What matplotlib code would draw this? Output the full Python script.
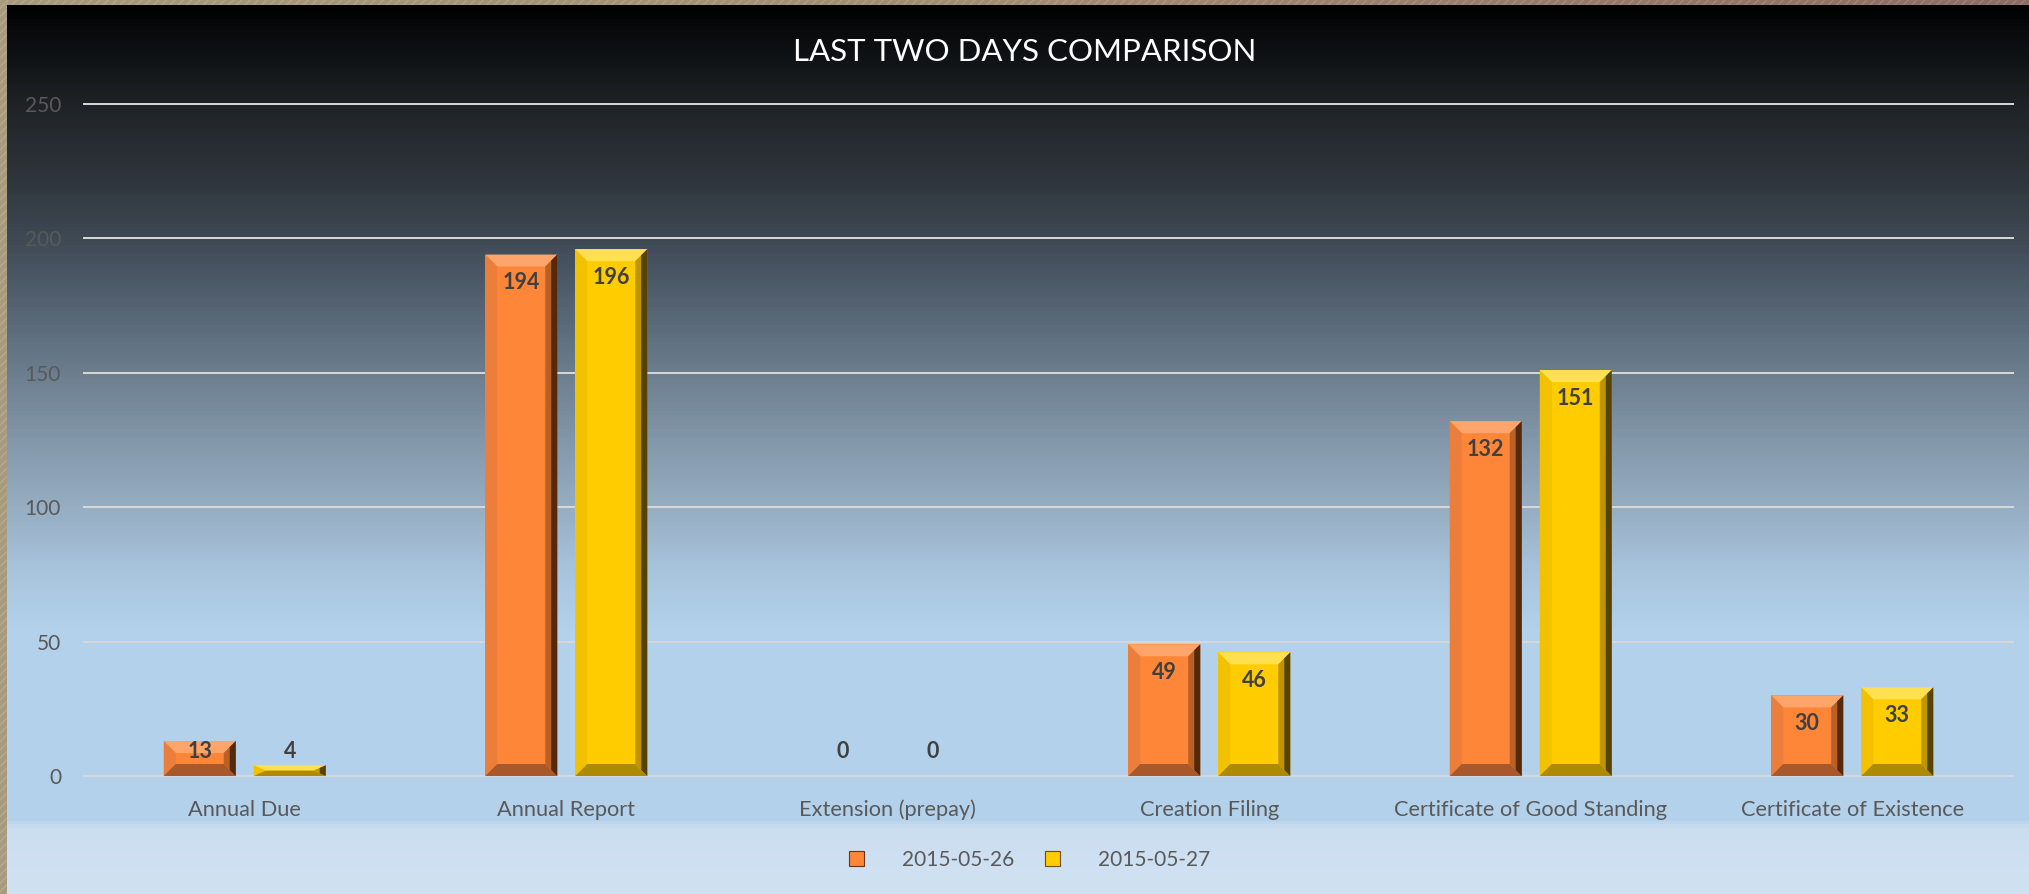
import numpy as np
import matplotlib
matplotlib.use('Agg')
import matplotlib.pyplot as plt
from matplotlib.patches import Polygon, Rectangle
from matplotlib.colors import LinearSegmentedColormap

plt.rcParams['font.family'] = ['Lato', 'DejaVu Sans']

# data
categories = ['Annual Due', 'Annual Report', 'Extension (prepay)', 'Creation Filing',
              'Certificate of Good Standing', 'Certificate of Existence']
day1_label = '2015-05-26'
day2_label = '2015-05-27'
day1 = [13, 194, 0, 49, 132, 30]
day2 = [4, 196, 0, 46, 151, 33]
yticks = [0, 50, 100, 150, 200, 250]
title = 'LAST TWO DAYS COMPARISON'

W, H = 2029, 894
fig = plt.figure(figsize=(W / 100, H / 100), dpi=100)

# hatched frame of the slide (left and top edge)
frame = fig.add_axes([0, 0, 1, 1])
frame.axis('off')
frame_cmap = LinearSegmentedColormap.from_list('frame', ['#a89a7c', '#a28c72', '#8e6c62'])
frame.imshow(np.linspace(0, 1, 256).reshape(1, -1), aspect='auto', cmap=frame_cmap,
             extent=[0, 1, 0, 1])
frame.add_patch(Rectangle((0, 0), 1, 1, transform=frame.transAxes, facecolor='none',
                          edgecolor=(1, 1, 1, 0.15), hatch='////', lw=0))
frame.set_xlim(0, 1)
frame.set_ylim(0, 1)

# background gradient, dark at the top to light blue at the bottom
top_px = 5
stops = [(5, '#000000'), (25, '#07090a'), (104, '#1f2327'), (180, '#2f363d'),
         (240, '#3f4a55'), (300, '#536170'), (373, '#6c7e8e'), (440, '#8397aa'),
         (507, '#96adc2'), (570, '#a8c3dc'), (630, '#b3d1eb'), (821, '#b3d1eb'),
         (829, '#cbdef0'), (894, '#d0e2f2')]
bg_cmap = LinearSegmentedColormap.from_list(
    'bg', [((y - top_px) / (H - top_px), c) for y, c in stops])
bg = fig.add_axes([7 / W, 0, 1 - 7 / W, 1 - top_px / H])
bg.axis('off')
bg.imshow(np.linspace(0, 1, H - top_px).reshape(-1, 1), aspect='auto', cmap=bg_cmap,
          extent=[0, 1, 0, 1])
bg.set_xlim(0, 1)
bg.set_ylim(0, 1)

ax = fig.add_axes([84 / W, 118 / H, (2013 - 84) / W, 672 / H])
ax.patch.set_alpha(0)
ax.set_xlim(-0.5, len(categories) - 0.5)
ax.set_ylim(0, 250)

x = np.arange(len(categories))
w = 0.224
off = 0.14
orange = '#fd8638'
yellow = '#ffcc00'
b1 = ax.bar(x - off, day1, w, color=orange, lw=0, zorder=3)
b2 = ax.bar(x + off, day2, w, color=yellow, lw=0, zorder=3)

# pixels per data unit, used for the bevel edges
p0 = ax.transData.transform((0, 0))
p1 = ax.transData.transform((1, 1))
px_x, px_y = p1[0] - p0[0], p1[1] - p0[1]


def bevel(rect, shades, size=12):
    x0, w_, h = rect.get_x(), rect.get_width(), rect.get_height()
    if h <= 0:
        return
    bx = min(size / px_x, w_ / 2)
    by = min(size / px_y, h / 2)
    x1 = x0 + w_
    top, left, bottom, right_in, right_out = shades
    faces = [
        ([(x0, h), (x1, h), (x1 - bx, h - by), (x0 + bx, h - by)], top),
        ([(x0, 0), (x0, h), (x0 + bx, h - by), (x0 + bx, by)], left),
        ([(x0, 0), (x1, 0), (x1 - bx, by), (x0 + bx, by)], bottom),
        ([(x1, 0), (x1, h), (x1 - bx, h - by), (x1 - bx, by)], right_in),
        ([(x1, 0), (x1, h), (x1 - bx / 2, h - by / 2), (x1 - bx / 2, by / 2)], right_out),
    ]
    for pts, c in faces:
        ax.add_patch(Polygon(pts, closed=True, facecolor=c, lw=0, zorder=4))


orange_shades = ['#fda56a', '#ea7e3a', '#a8582a', '#b86026', '#55290b']
yellow_shades = ['#ffe050', '#f2c200', '#ad8a00', '#bf9600', '#574300']
for r in b1:
    bevel(r, orange_shades)
for r in b2:
    bevel(r, yellow_shades)

# value labels just inside the top of each bar
for bars, vals in [(b1, day1), (b2, day2)]:
    for r, v in zip(bars, vals):
        ax.annotate(str(v), (r.get_x() + r.get_width() / 2, max(v, 19.7)),
                    xytext=(0, -28), textcoords='offset pixels', ha='center', va='center',
                    fontsize=15.5, fontweight='bold', color='#404040', zorder=6)

ax.set_yticks(yticks)
ax.set_xticks(x, categories)
ax.tick_params(length=0, colors='#595959', labelsize=15)
ax.tick_params(axis='y', pad=16.5)
ax.tick_params(axis='x', pad=17, labelsize=15.7)
ax.grid(axis='y', color='#d9d9d9', lw=1.4)
ax.set_axisbelow(True)
for gl in ax.get_ygridlines():
    gl.set_clip_on(False)
for s in ax.spines.values():
    s.set_visible(False)

fig.text(1024.5 / W, 1 - 52 / H, title, ha='center', va='center', color='white', fontsize=22.5)

handles = [Rectangle((0, 0), 1, 1, facecolor=orange, edgecolor='#6b3410', lw=0.8),
           Rectangle((0, 0), 1, 1, facecolor=yellow, edgecolor='#6b5000', lw=0.8)]
ax.legend(handles, [day1_label, day2_label], loc='center',
          bbox_to_anchor=(1029.5 / W, 1 - 860 / H), bbox_transform=fig.transFigure,
          ncol=2, frameon=False, handlelength=0.72, handleheight=0.72,
          handletextpad=1.8, columnspacing=1.5, fontsize=15, labelcolor='#595959')

fig.savefig('out.png', dpi=100)
